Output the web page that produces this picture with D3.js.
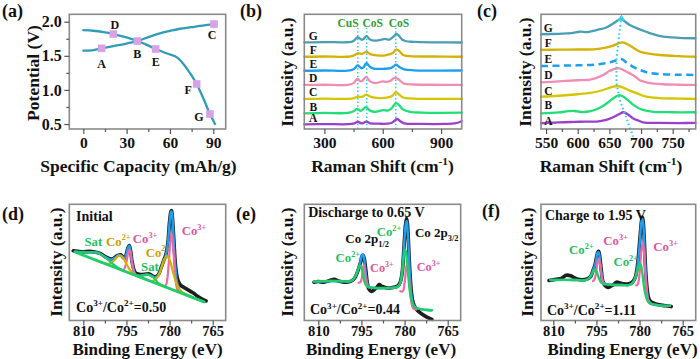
<!DOCTYPE html>
<html><head><meta charset="utf-8">
<script src="https://cdn.jsdelivr.net/npm/d3@7/dist/d3.min.js"></script>
<style>
body{margin:0;background:#fff}
svg text{font-family:"Liberation Serif","Times New Roman",serif;font-weight:bold;fill:#111}
</style></head>
<body><svg id="c" width="700" height="359"></svg>
<script>
// ---------------- DATA ----------------
// (a) galvanostatic curves: [capacity mAh/g, potential V]
const capTicks = [0, 30, 60, 90];
const potTicks = [0.5, 1.0, 1.5, 2.0];
const chargeCurve = [[0,1.575],[6,1.58],[12.7,1.61],[20.8,1.644],[30,1.68],[37.4,1.717],[45,1.775],[53,1.83],[60,1.865],[67,1.897],[75,1.92],[80.8,1.94],[90.5,1.966]];
const dischargeCurve = [[0,1.878],[6.9,1.868],[14,1.848],[20.8,1.82],[30,1.77],[37.4,1.717],[44,1.66],[50.1,1.6],[58,1.535],[65.8,1.463],[71.6,1.317],[78.5,1.087],[83.1,0.877],[87.7,0.647],[91.2,0.5]];
const statePoints = ["A","B","C","D","E","F","G"];
const stateCap = [12.7, 37.4, 90.5, 20.8, 50.1, 78.5, 87.7];
const stateV = [1.61, 1.717, 1.966, 1.82, 1.6, 1.087, 0.647];

// (b) Raman spectra, full range: [shift cm-1, stacked intensity]
const ramanTicks = [300, 600, 900];
const ramanNames = ["G","F","E","D","C","B","A"];
const ramanFull = {
 G:[[197,75.6],[300,75.8],[400,75.6],[440,76],[455,77.5],[472,80],[490,78],[500,78.3],[516,81],[535,78],[560,77],[590,77.8],[612,78.5],[635,78],[655,80.5],[670,83],[685,81],[700,78],[720,76.5],[760,76],[850,75.6],[1006,75.4]],
 F:[[197,63],[300,63.2],[420,63],[450,64],[472,66],[495,65.5],[516,67.2],[540,65],[580,64],[620,64.5],[650,66],[670,69.5],[688,67.5],[705,64.5],[740,63.5],[850,63.2],[1006,63]],
 E:[[197,50.8],[300,51],[420,50.8],[450,52],[472,55.5],[490,53],[500,53.5],[516,57.5],[535,54],[560,52.5],[600,52.5],[640,53],[655,54.5],[668,56],[685,54],[710,52],[760,51.2],[1006,51]],
 D:[[197,38.4],[300,38.6],[420,38.5],[450,40],[470,44],[485,41.5],[495,42],[515,45.5],[535,41.5],[560,40],[600,41.5],[620,41],[640,42],[660,44.5],[675,44],[690,42],[710,39.5],[760,38.8],[1006,38.5]],
 C:[[197,26.2],[300,26.4],[420,26.3],[455,27],[472,28.2],[495,28],[515,30],[540,28],[580,27],[620,27.3],[650,29],[668,32],[685,30],[705,27.5],[760,26.5],[1006,26.3]],
 B:[[197,13.7],[300,14],[420,14],[450,15.5],[468,17.5],[485,15.8],[495,16.5],[513,19],[535,16],[560,15],[605,16.5],[625,16],[645,18],[668,22.5],[685,20.5],[705,17],[740,15],[800,14.3],[1006,14.2]],
 A:[[197,4.1],[300,4.3],[420,4.2],[455,5],[472,6.2],[490,5],[500,5.2],[515,6.5],[535,5],[580,4.6],[640,5],[660,7],[674,8.7],[690,6.8],[710,5],[800,4.4],[920,4.4],[970,4.8],[1006,6.8]]
};
const ramanPeakLines = [472, 518, 667];
const ramanPeakNames = ["CuS","CoS","CoS"];
const ramanPeakLabelX = [422, 549, 684];

// (c) Raman spectra, zoom 540-790 cm-1
const zoomTicks = [550, 600, 650, 700, 750];
const ramanZoom = {
 G:[[542,82.6],[570,83],[590,83.5],[603,84.8],[615,84.5],[630,86.3],[645,88.5],[656,92],[663,94.5],[668,96],[675,93.5],[682,90.7],[695,87.5],[708,84.8],[720,82.5],[735,80.5],[760,79.5],[786,79.1]],
 F:[[542,68.9],[570,69.2],[600,69.3],[625,69.5],[640,70.5],[655,72.5],[665,74.8],[671,75.6],[680,73.5],[690,70],[698,67.5],[710,66],[730,64.5],[760,63.5],[786,63]],
 E:[[542,54.9],[570,55.2],[600,55.5],[630,56.3],[650,58],[662,60],[669,61],[678,57.5],[690,53.5],[700,51.2],[712,49],[730,47.8],[760,47.3],[786,47.1]],
 D:[[542,40.7],[570,41.5],[600,42.5],[620,43],[640,47.1],[650,50.5],[658,52.5],[665,52.9],[672,51.5],[682,48.5],[690,46],[698,42.5],[710,40.5],[735,39],[760,38.6],[786,38.4]],
 C:[[542,28.2],[570,29],[600,30.3],[620,31.5],[640,34],[655,36.8],[662,37.5],[670,36.5],[682,33.5],[695,30.8],[708,28.2],[730,27],[760,26.5],[786,26.2]],
 B:[[542,13.7],[570,14.5],[585,15.5],[595,15.7],[605,14.8],[620,15.5],[635,18.5],[646,22.4],[658,27.5],[666,29.6],[674,27.5],[682,23.8],[692,19.5],[703,16.6],[720,15],[750,14.6],[786,14.6]],
 A:[[542,5],[570,5.8],[595,6.2],[610,6.4],[630,6.5],[645,8],[655,10],[665,12.8],[672,14.6],[680,12.5],[687,9.3],[695,7.5],[703,5.8],[730,5.3],[760,5.2],[786,5.3]]
};
const peakShiftTrace = [[669,98],[664.5,78],[661.2,60.2],[661.2,39.8],[666.5,25.3],[677,9.3],[687.5,-6.7]];

// (d)-(f) XPS Co 2p: [binding energy eV, intensity]
const beTicks = [810, 795, 780, 765];
// (d) Initial
const dRaw = [[813.5,60],[812,59.5],[810,59],[808,59.5],[806,59],[804,57.5],[802,54.5],[800,53],[798,56],[797,56.5],[796,54],[795.5,54],[795,57.5],[794.5,62.5],[794,64.5],[793.5,59],[793,50],[792,41.5],[791,40],[790,39.5],[788,40],[787,40],[786,38.5],[785,37.5],[784,39],[783,45],[782,52],[781.5,55],[781,60],[780.5,69],[780,85],[779.5,94],[779.3,94.5],[779,88],[778.5,69],[778,49],[777.5,39],[777,34],[776,30],[775,28.5],[774,27],[772,24],[770,20.5],[768,17.5],[767.3,16.8]];
const dEnvelope = [[812.9,59.5],[810,58.6],[807,58.7],[805,58.3],[803,55.5],[801,52.8],[800,52.6],[799,54],[798,56],[797,56],[796,53.9],[795.5,53.9],[795,57.2],[794.5,62.5],[794,64.3],[793.5,58.7],[793,49.7],[792,40.1],[791,38.8],[790,38.6],[789,38.8],[788,39.3],[787,39.2],[786,38.1],[785,37.1],[784,38.9],[783,44.5],[782,51.6],[781.5,54.2],[781,59.6],[780.5,68.8],[780,84],[779.5,93.5],[779.3,93.8],[779,88],[778.5,67],[778,46.6],[777.5,34.3],[777,29],[776,24.8],[774,21.8],[771,18.9],[768,16]];
const dBackground = [[812.9,58.9],[768,16]];
const dSat = [[812.9,59],[812,59],[809,58.6],[806.5,58.7],[804.5,57.9],[802,53.5],[800,49.1],[798,45.5],[796,42.8]];
const dSat2 = [[793,40],[791,38.6],[790,38.6],[788.5,39.6],[787,39.2],[785.5,36.8],[784,32.5],[782,29.5]];
const dCo2 = [[806,52.3],[803,49.5],[801,48.8],[800,50.1],[799,52.5],[798,55.2],[797,55.7],[796,53.2],[795,48.7],[794,44.3],[793,41.2],[791,38.1],[789,36.1],[786,33.9],[784,37.9],[783,44.2],[782,51.6],[781,55.4],[780,52.2],[779,43.8],[778,34.8],[777,28.4],[776,25],[774.6,23],[772,20]];
const dCo3a = [[797,43.7],[796,43.4],[795,50.3],[794.5,57.4],[794,61],[793.5,56.5],[793,48.4],[792,39.6],[791,38]];
const dCo3b = [[782.5,29.8],[781.3,30.4],[780.8,35.5],[780.3,49],[779.8,66],[779.3,75],[778.8,65.5],[778.3,46.5],[777.8,32.7],[777.3,26.6],[776.3,23.9]];
// (e) Discharge to 0.65 V
const eRaw = [[811.5,33],[810,33.5],[808,33],[806,34.5],[804.5,35.5],[803,34],[801,33],[799,33.5],[797.5,36],[796.5,41],[795.8,46],[795.2,51],[794.8,55.5],[794.4,56],[794,53],[793.5,44],[793,33],[792.4,27],[791.5,25],[790.5,26.5],[789.5,29],[788.8,31],[788,29.5],[786,28],[784,28.5],[782.5,29.5],[781.5,33],[780.8,42],[780.4,55],[780,71],[779.7,82],[779.3,88],[779,83],[778.7,70],[778.2,44],[777.6,24],[777,15],[776,10],[774.5,6.5],[773,4],[771.5,2],[770.5,1]];
const eEnvelope = [[811.5,33.5],[806,33.8],[802,33.8],[799.5,33.6],[798,35],[797,38.5],[796.2,43.6],[795.6,48.6],[795.2,52.3],[794.8,56.6],[794.4,56.8],[794.2,55.5],[793.9,50],[793.5,40.8],[793,32.6],[792.5,29.2],[791,28.2],[785,28],[782,29.8],[781.3,34.3],[780.8,43],[780.4,56],[780,70.7],[779.8,77.5],[779.5,84.2],[779.2,85.5],[779,80],[778.7,67.9],[778.2,42.5],[777.6,21.5],[777,13.9],[776,11],[774,9.6],[772,9],[770.5,8.8]];
const eCo2 = [[811.5,33.5],[808,33.8],[805,34.2],[802,33.8],[799.5,33.6],[798,35],[797,38.5],[796.2,43.5],[795.6,47],[795.2,47],[794.7,43],[794.2,36.5],[793.6,31],[792.8,28.8],[791,28.2],[788,28],[785,28],[783,28.3],[782,29.8],[781.3,34],[780.8,42],[780.4,52],[780,59.5],[779.8,61],[779.5,59],[779.1,50],[778.7,38],[778.2,26],[777.6,17.5],[777,13.5],[776,11],[774,9.6],[772,9],[770.5,8.8]];
const eCo3a = [[796,32.5],[795.4,33],[795,35],[794.6,42],[794.2,47.5],[793.8,42.5],[793.4,34],[793,30],[792.4,28.6]];
const eCo3b = [[781.5,25.2],[780.6,25],[780.2,28.7],[779.8,36.5],[779.4,45.8],[779,49],[778.6,41.8],[778.2,29],[777.8,18.4],[777.4,12.9],[777,10.4],[776,9.5]];
// (f) Charge to 1.95 V
const fRaw = [[811.5,34.5],[809,35.5],[807,36.5],[805.5,39],[804,38.5],[802,36],[800,35],[798,36],[797,38],[796.2,43],[795.5,48],[795,54],[794.5,59],[794.2,59.5],[793.8,54],[793.3,43],[792.8,34],[792,30],[791,28.5],[790,29.5],[789,31],[788,33],[787,32.5],[785.5,31.5],[784,31.5],[782.5,33],[781.5,37],[780.8,46],[780.3,58],[779.8,73],[779.3,86],[779,89],[778.7,84],[778.3,66],[777.9,44],[777.4,28],[776.8,19],[776,16],[774,14],[772,13],[770,12.5],[769,12]];
const fEnvelope = [[811,34.9],[806,35],[802,34.8],[799,34.6],[797.5,36.5],[796.6,40],[796,44.4],[795.5,47.5],[795,53.5],[794.6,58.5],[794.2,58.5],[793.8,52.5],[793.4,43.3],[793,36.4],[792.5,32.3],[790,30.8],[786,30.6],[783.5,30.6],[782.2,33],[781.3,38.2],[780.6,49],[780.2,59],[779.8,72],[779.4,84],[779,87.5],[778.6,79],[778.2,57],[777.8,38],[777.4,25],[777,18.2],[776,14.5],[773,13],[769.5,12.6]];
const fCo2 = [[811,34.9],[806,35],[802,34.8],[799,34.6],[797.5,36.5],[796.6,40],[796,43],[795.5,44],[795,42.5],[794.5,39],[794,35.5],[793.3,32.5],[792.5,31.3],[790,30.8],[786,30.6],[783.5,30.6],[782.2,33],[781.3,38],[780.6,45],[780,49],[779.6,48],[779.1,42],[778.6,32],[778.1,24],[777.5,18.5],[777,16],[775.5,14],[773,13],[769.5,12.6]];
const fCo3a = [[796.2,34],[795.8,34.8],[795.4,37.6],[795,43.5],[794.6,50.5],[794.2,53.4],[793.8,49.7],[793.4,42],[793,35.6],[792.6,32.4],[792.2,31.1]];
const fCo3b = [[781.15,30.2],[780.7,30.9],[780.25,34.9],[779.8,46.5],[779.35,60.5],[778.9,67.5],[778.45,58.5],[778,40.5],[777.55,25.9],[777.1,18.1],[776.65,15.1],[776,14]];

// ---------------- STYLE / LAYOUT ----------------
const svg = d3.select("#c");
const C = {
  frame:"#8a8a8a", tick:"#555",
  curveA:"#2f9db6", marker:"#d8a2e6",
  spec:{G:"#4a9fb6",F:"#d6b106",E:"#1d9ff0",D:"#f08db2",C:"#d4c600",B:"#22de78",A:"#9b40cb"},
  dotted:"#2fd0ec",
  raw:"#1e1e1e", env:"#1e9ff0", pink:"#ec6aa6", gold:"#d3b000", green:"#22cc66",
  labGreen:"#1fbf5e", labGold:"#c8a000", labPink:"#e0559c", peakLab:"#2b9a35"
};
const FS = {tick:15.5, tickB:14.5, title:17.5, titleB:17, panel:18, note:14, lab:12.8, sub:13, letter:11.5, letterA:12};
const TOP = [14.3, 129], BOT = [204.3, 320.5];

function makePanel(x0, x1, yr, xd, yd) {
  const x = d3.scaleLinear().domain(xd).range([x0, x1]);
  const y = d3.scaleLinear().domain(yd).range([yr[1], yr[0]]);
  return {x, y, x0, x1, y0: yr[0], y1: yr[1], g: svg.append("g")};
}
function frame(p) {
  svg.append("rect").attr("x", p.x0).attr("y", p.y0).attr("width", p.x1 - p.x0).attr("height", p.y1 - p.y0)
    .attr("fill", "none").attr("stroke", C.frame).attr("stroke-width", 1.6);
}
function xAxis(p, majors, minors, pad, size) {
  const g = svg.append("g").attr("transform", `translate(0,${p.y1})`)
    .call(d3.axisBottom(p.x).tickValues(majors).tickSize(5).tickPadding(pad).tickFormat(d3.format("d")));
  g.select(".domain").remove();
  g.selectAll("line").attr("stroke", C.tick).attr("stroke-width", 1.2);
  g.selectAll("text").attr("font-size", size).attr("fill", "#111");
  const gm = svg.append("g").attr("transform", `translate(0,${p.y1})`)
    .call(d3.axisBottom(p.x).tickValues(minors).tickSize(3).tickFormat(""));
  gm.select(".domain").remove();
  gm.selectAll("line").attr("stroke", C.tick).attr("stroke-width", 1.2);
}
function xTitle(cx, base, parts, size) { rich(svg, cx, base, parts, "#111", size, "middle"); }
function yTitle(cx, cy, txt) {
  svg.append("text").attr("transform", `translate(${cx},${cy}) rotate(-90)`).attr("text-anchor", "middle")
    .attr("dy", "0.35em").attr("font-size", FS.title).text(txt);
}
function panelLabel(x, y, t) { svg.append("text").attr("x", x).attr("y", y).attr("font-size", FS.panel).text(t); }
// parts: [text, "sup"|"sub"|""]
function rich(g, x, y, parts, color, size, anchor) {
  const t = g.append("text").attr("x", x).attr("y", y).attr("font-size", size).attr("fill", color)
    .attr("text-anchor", anchor || "start");
  let shift = 0;
  parts.forEach(([s, k]) => {
    const target = k === "sup" ? -size * 0.42 : k === "sub" ? size * 0.3 : 0;
    t.append("tspan").attr("dy", target - shift).attr("font-size", k ? size * 0.65 : size)
      .style("fill", color).text(s);
    shift = target;
  });
  return t;
}
function path(p, data, color, w, curve, dash) {
  const line = d3.line().x(d => p.x(d[0])).y(d => p.y(d[1])).curve(curve || d3.curveCatmullRom.alpha(0.5));
  const el = p.g.append("path").datum(data).attr("d", line).attr("fill", "none").attr("stroke", color)
    .attr("stroke-width", w).attr("stroke-linejoin", "round").attr("stroke-linecap", "round");
  if (dash) el.attr("stroke-dasharray", dash).attr("stroke-linecap", "butt");
  return el;
}

// ---------------- (a) ----------------
{
  const p = makePanel(69.3, 225.7, TOP, [-9.7, 98.6], [0.427, 2.109]);
  frame(p);
  xAxis(p, capTicks, [15, 45, 75], 3, FS.tick);
  const ya = svg.append("g").attr("transform", `translate(${p.x0},0)`)
    .call(d3.axisLeft(p.y).tickValues(potTicks).tickSize(5).tickPadding(2.5).tickFormat(d3.format(".1f")));
  ya.select(".domain").remove();
  ya.selectAll("line").attr("stroke", C.tick).attr("stroke-width", 1.2);
  ya.selectAll("text").attr("font-size", FS.tick + 0.5).attr("fill", "#111");
  const ym = svg.append("g").attr("transform", `translate(${p.x0},0)`)
    .call(d3.axisLeft(p.y).tickValues([0.75, 1.25, 1.75]).tickSize(3).tickFormat(""));
  ym.select(".domain").remove(); ym.selectAll("line").attr("stroke", C.tick).attr("stroke-width", 1.2);
  path(p, chargeCurve, C.curveA, 2.3, d3.curveMonotoneX);
  path(p, dischargeCurve, C.curveA, 2.3, d3.curveMonotoneX);
  const off = {A:[0,15],B:[0,13],C:[-2,11],D:[1.5,-9],E:[0,12.7],F:[-8.5,6],G:[-11,3]};
  statePoints.forEach((n, i) => {
    const cx = p.x(stateCap[i]), cy = p.y(stateV[i]);
    p.g.append("rect").attr("x", cx - 3.8).attr("y", cy - 3.8).attr("width", 7.6).attr("height", 7.6).attr("fill", C.marker);
    p.g.append("text").attr("x", cx + off[n][0]).attr("y", cy + off[n][1]).attr("dy", "0.35em")
      .attr("text-anchor", "middle").attr("font-size", FS.letterA).text(n);
  });
  xTitle(138.5, 171.5, [["Specific Capacity (mAh/g)", ""]], FS.title);
  yTitle(33, 73, "Potential (V)");
  panelLabel(2, 16.5, "(a)");
}

// ---------------- (b) ----------------
{
  const p = makePanel(304.3, 461.7, TOP, [197, 1006], [0, 100]);
  ramanPeakLines.forEach(v => p.g.append("line").attr("x1", p.x(v)).attr("x2", p.x(v)).attr("y1", p.y(0)).attr("y2", p.y(88))
    .attr("stroke", C.dotted).attr("stroke-width", 1.6).attr("stroke-dasharray", "1.5,2.2"));
  ramanNames.forEach(n => path(p, ramanFull[n], C.spec[n], 2.3));
  ramanNames.forEach((n, i) => {
    const base = ramanFull[n][0][1];
    p.g.append("text").attr("x", p.x(243)).attr("y", p.y(base + 5.8)).attr("dy", "0.35em").attr("text-anchor", "middle")
      .attr("font-size", FS.letter).text(n);
  });
  ramanPeakNames.forEach((n, i) => p.g.append("text").attr("x", p.x(ramanPeakLabelX[i])).attr("y", p.y(92.2)).attr("dy", "0.35em")
    .attr("text-anchor", "middle").attr("font-size", FS.letter).style("fill", C.peakLab).text(n));
  frame(p);
  xAxis(p, ramanTicks, [450, 750], 3, FS.tick);
  xTitle(382.5, 172, [["Raman Shift (cm", ""], ["-1", "sup"], [")", ""]], FS.title);
  yTitle(287, 72, "Intensity (a.u.)");
  panelLabel(240, 16.5, "(b)");
}

// ---------------- (c) ----------------
{
  const p = makePanel(541, 695.7, TOP, [542, 786.3], [0, 100]);
  ramanNames.forEach(n => path(p, ramanZoom[n], C.spec[n], n === "E" ? 2.5 : 2.3, null, n === "E" ? "7,4.5" : null));
  path(p, peakShiftTrace, C.dotted, 2, d3.curveLinear, "1.6,2.6");
  const tip = peakShiftTrace[0];
  p.g.append("path").attr("d", d3.symbol(d3.symbolTriangle, 22)())
    .attr("transform", `translate(${p.x(tip[0])},${p.y(tip[1]) + 2})`).attr("fill", C.dotted);
  const labY = {G:88.3,F:74.7,E:61,D:47.1,C:33.1,B:20.9,A:7};
  ramanNames.forEach(n => p.g.append("text").attr("x", p.x(553.6)).attr("y", p.y(labY[n])).attr("dy", "0.35em")
    .attr("text-anchor", "middle").attr("font-size", FS.letter).text(n));
  frame(p);
  xAxis(p, zoomTicks, [575, 625, 675, 725, 775], 3, FS.tick);
  xTitle(611, 172, [["Raman Shift (cm", ""], ["-1", "sup"], [")", ""]], FS.title);
  yTitle(525, 72, "Intensity (a.u.)");
  panelLabel(477, 16.5, "(c)");
}

const beMinor = [802.5, 787.5, 772.5];
const BOT_TITLE = 355;
// ---------------- (d) ----------------
{
  const p = makePanel(69.3, 225.7, BOT, [814.87, 760.48], [0, 100]);
  path(p, dRaw, C.raw, 3.6);
  path(p, dEnvelope, C.env, 2.4);
  path(p, dCo3a, C.pink, 2.2);
  path(p, dCo3b, C.pink, 2.2);
  path(p, dCo2, C.gold, 2.2);
  path(p, dSat, C.green, 2.2);
  path(p, dSat2, C.green, 2.2);
  path(p, dBackground, C.green, 2.8, d3.curveLinear);
  rich(p.g, p.x(812.5), p.y(85.9), [["Initial", ""]], "#111", FS.note);
  rich(p.g, p.x(809.6), p.y(64.4), [["Sat", ""]], C.labGreen, FS.lab);
  rich(p.g, p.x(802.1), p.y(64.4), [["Co", ""], ["2+", "sup"]], C.labGold, FS.lab);
  rich(p.g, p.x(792.8), p.y(66.4), [["Co", ""], ["3+", "sup"]], C.labPink, FS.lab);
  rich(p.g, p.x(788.3), p.y(54.9), [["Co", ""], ["2+", "sup"]], C.labGold, FS.lab);
  rich(p.g, p.x(789.9), p.y(43), [["Sat", ""]], C.labGreen, FS.lab);
  rich(p.g, p.x(775.8), p.y(73.6), [["Co", ""], ["3+", "sup"]], C.labPink, FS.lab);
  rich(p.g, p.x(812.5), p.y(7.6), [["Co", ""], ["3+", "sup"], ["/Co", ""], ["2+", "sup"], ["=0.50", ""]], "#111", FS.note);
  frame(p);
  xAxis(p, beTicks, beMinor, 0.5, FS.tickB);
  xTitle(147.5, BOT_TITLE, [["Binding Energy (eV)", ""]], FS.titleB);
  yTitle(56, 262, "Intensity (a.u.)");
  panelLabel(2, 220, "(d)");
}

// ---------------- (e) ----------------
{
  const p = makePanel(304.3, 460.7, BOT, [814.87, 760.48], [0, 100]);
  path(p, eRaw, C.raw, 3.6);
  path(p, eEnvelope, C.env, 2.4);
  path(p, eCo3a, C.pink, 2.2);
  path(p, eCo3b, C.pink, 2.2);
  path(p, eCo2, C.green, 2.4);
  rich(p.g, p.x(813.5), p.y(89.3), [["Discharge to 0.65 V", ""]], "#111", FS.note);
  rich(p.g, p.x(800.6), p.y(66.7), [["Co 2p", ""], ["1/2", "sub"]], "#111", FS.sub);
  rich(p.g, p.x(789.7), p.y(72.7), [["Co", ""], ["2+", "sup"]], C.labGreen, FS.lab);
  rich(p.g, p.x(776.4), p.y(71.9), [["Co 2p", ""], ["3/2", "sub"]], "#111", FS.sub);
  rich(p.g, p.x(804), p.y(50.3), [["Co", ""], ["2+", "sup"]], C.labGreen, FS.lab);
  rich(p.g, p.x(792), p.y(41.7), [["Co", ""], ["3+", "sup"]], C.labPink, FS.lab - 0.5);
  rich(p.g, p.x(775.8), p.y(42.6), [["Co", ""], ["3+", "sup"]], C.labPink, FS.lab - 0.5);
  rich(p.g, p.x(812.9), p.y(5.2), [["Co", ""], ["3+", "sup"], ["/Co", ""], ["2+", "sup"], ["=0.44", ""]], "#111", FS.note);
  frame(p);
  xAxis(p, beTicks, beMinor, 0.5, FS.tickB);
  xTitle(381, BOT_TITLE, [["Binding Energy (eV)", ""]], FS.titleB);
  yTitle(287, 262, "Intensity (a.u.)");
  panelLabel(236, 220, "(e)");
}

// ---------------- (f) ----------------
{
  const p = makePanel(541, 695.7, BOT, [814.28, 760.48], [0, 100]);
  path(p, fRaw, C.raw, 3.6);
  path(p, fEnvelope, C.env, 2.4);
  path(p, fCo3a, C.pink, 2.2);
  path(p, fCo3b, C.pink, 2.2);
  path(p, fCo2, C.green, 2.4);
  rich(p.g, p.x(812.9), p.y(86.5), [["Charge to 1.95 V", ""]], "#111", FS.note);
  rich(p.g, p.x(804.5), p.y(57.2), [["Co", ""], ["2+", "sup"]], C.labGreen, FS.lab);
  rich(p.g, p.x(792.6), p.y(65), [["Co", ""], ["3+", "sup"]], C.labPink, FS.lab);
  rich(p.g, p.x(789.1), p.y(46.9), [["Co", ""], ["2+", "sup"]], C.labGreen, FS.lab);
  rich(p.g, p.x(775.2), p.y(59.8), [["Co", ""], ["3+", "sup"]], C.labPink, FS.lab);
  rich(p.g, p.x(812.2), p.y(4.7), [["Co", ""], ["3+", "sup"], ["/Co", ""], ["2+", "sup"], ["=1.11", ""]], "#111", FS.note);
  frame(p);
  xAxis(p, beTicks, beMinor, 0.5, FS.tickB);
  xTitle(622.5, BOT_TITLE, [["Binding Energy (eV)", ""]], FS.titleB);
  yTitle(527, 262, "Intensity (a.u.)");
  panelLabel(482, 217, "(f)");
}
</script></body></html>
